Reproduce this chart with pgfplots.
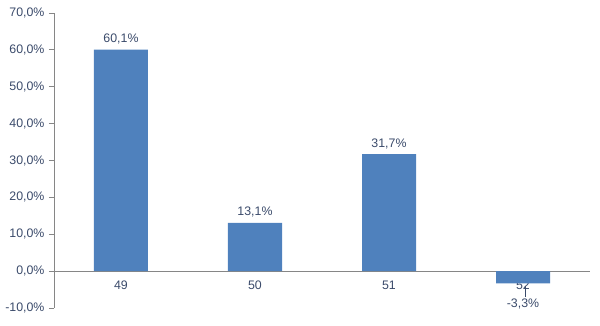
\documentclass[border=0pt]{standalone}
\usepackage{pgfplots}
\pgfplotsset{compat=1.18}
\usepackage{fontspec}
\setmainfont{Liberation Sans}
\definecolor{barblue}{HTML}{4F81BD}
\definecolor{txt}{HTML}{3A4A6A}
\definecolor{axgray}{HTML}{868686}
\begin{document}
\begin{tikzpicture}
\begin{axis}[
  scale only axis,
  width=536bp, height=295bp,
  xmin=-0.5, xmax=3.5,
  ymin=-10, ymax=70,
  axis x line*=middle,
  axis y line*=left,
  axis line style={axgray, line width=0.8pt},
  every tick/.style={axgray, line width=0.8pt},
  ybar, bar width=54bp,
  ytick={-10,0,...,70},
  yticklabel={\pgfmathprintnumber[fixed,fixed zerofill,precision=1,use comma]{\tick}\%},
  /pgf/number format/assume math mode=true,
  tick label style={font=\fontsize{12.4}{14}\selectfont, text=txt},
  ytick style={axgray},
  y tick label style={xshift=-1bp},
  tick align=outside,
  major tick length=5bp,
  xtick={0,1,2,3},
  xticklabels={49,50,51,52},
  x tick label style={yshift=-1bp},
  xtick style={draw=none},
  extra x ticks={0.5,1.5,2.5,3.5},
  extra x tick labels={},
  extra x tick style={tick style={axgray, line width=0.8pt}, major tick length=5bp},
  clip=false,
]
\addplot[fill=barblue, draw=none] coordinates {(0,60.1) (1,13.1) (2,31.7) (3,-3.3)};
\node[font=\fontsize{12.4}{14}\selectfont, text=txt, anchor=south, yshift=2bp] at (axis cs:0,60.1) {60,1\%};
\node[font=\fontsize{12.4}{14}\selectfont, text=txt, anchor=south, yshift=2bp] at (axis cs:1,13.1) {13,1\%};
\node[font=\fontsize{12.4}{14}\selectfont, text=txt, anchor=south, yshift=2bp] at (axis cs:2,31.7) {31,7\%};
\node[font=\fontsize{12.4}{14}\selectfont, text=txt] at (axis cs:3,-9.0) {-3,3\%};
\draw[txt, line width=0.6pt] (axis cs:3.02,-3.9) -- (axis cs:3.02,-7.1);
\coordinate (O) at (rel axis cs:0,0);
\end{axis}
\pgfresetboundingbox
\path (O) ++(-54bp,-18bp) rectangle ++(600bp,326bp);
\end{tikzpicture}
\end{document}
